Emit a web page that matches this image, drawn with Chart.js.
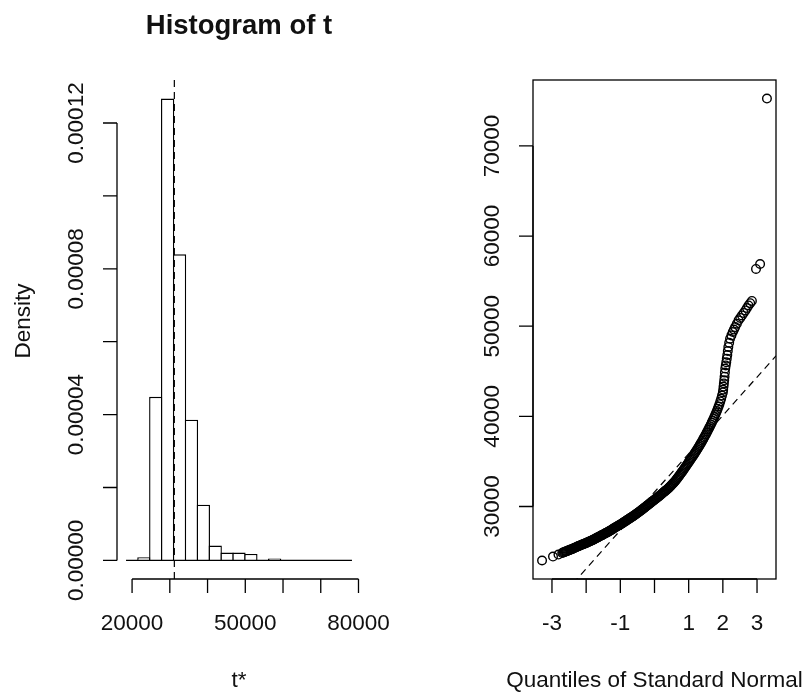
<!DOCTYPE html>
<html>
<head>
<meta charset="utf-8">
<script src="https://cdn.jsdelivr.net/npm/chart.js@4/dist/chart.umd.min.js"></script>
<style>
  html, body { margin: 0; padding: 0; background: #fff; }
  #wrap { position: relative; width: 805px; height: 693px; }
  canvas { position: absolute; top: 0; }
  #histCanvas { left: 0; }
  #qqCanvas { left: 402px; }
</style>
</head>
<body>
<div id="wrap">
  <canvas id="histCanvas" width="402" height="693"></canvas>
  <canvas id="qqCanvas" width="403" height="693"></canvas>
</div>
<script>
// histogram of bootstrap replicates t*
const breaks = [18400, 21551, 24702, 27853, 31004, 34155, 37306, 40457, 43608, 46759,
                49910, 53061, 56212, 59363, 62514, 65665, 68816, 71967, 75118, 78269];
const density = [0, 8.8e-7, 4.49e-5, 1.267e-4, 8.40e-5, 3.86e-5, 1.53e-5, 4.06e-6, 2.14e-6, 2.14e-6,
                 1.78e-6, 0, 4.9e-7, 0, 0, 0, 0, 0, 0];
const t0 = 31200;

const histXTicks = [20000, 30000, 40000, 50000, 60000, 70000, 80000];
const histXLabels = ['20000', '', '', '50000', '', '', '80000'];
const histYTicks = [0, 0.00002, 0.00004, 0.00006, 0.00008, 0.0001, 0.00012];
const histYLabels = ['0.00000', '', '0.00004', '', '0.00008', '', '0.00012'];

// normal quantile plot: theoretical quantile vs sorted t*
const qqTheo = [
  -3.29, -2.97, -2.81,
  -2.700, -2.675, -2.650, -2.625, -2.600, -2.575, -2.550, -2.525, -2.500, -2.475,
  -2.450, -2.425, -2.400, -2.375, -2.350, -2.325, -2.300, -2.275, -2.250, -2.225,
  -2.200, -2.175, -2.150, -2.125, -2.100, -2.075, -2.050, -2.025, -2.000, -1.975,
  -1.950, -1.925, -1.900, -1.875, -1.850, -1.825, -1.800, -1.775, -1.750, -1.725,
  -1.700, -1.675, -1.650, -1.625, -1.600, -1.575, -1.550, -1.525, -1.500, -1.475,
  -1.450, -1.425, -1.400, -1.375, -1.350, -1.325, -1.300, -1.275, -1.250, -1.225,
  -1.200, -1.175, -1.150, -1.125, -1.100, -1.075, -1.050, -1.025, -1.000, -0.975,
  -0.950, -0.925, -0.900, -0.875, -0.850, -0.825, -0.800, -0.775, -0.750, -0.725,
  -0.700, -0.675, -0.650, -0.625, -0.600, -0.575, -0.550, -0.525, -0.500, -0.475,
  -0.450, -0.425, -0.400, -0.375, -0.350, -0.325, -0.300, -0.275, -0.250, -0.225,
  -0.200, -0.175, -0.150, -0.125, -0.100, -0.075, -0.050, -0.025, 0.000, 0.025,
  0.050, 0.075, 0.100, 0.125, 0.150, 0.175, 0.200, 0.225, 0.250, 0.275,
  0.300, 0.325, 0.350, 0.375, 0.400, 0.425, 0.450, 0.475, 0.500, 0.525,
  0.550, 0.575, 0.600, 0.625, 0.650, 0.675, 0.700, 0.725, 0.750, 0.775,
  0.800, 0.825, 0.850, 0.875, 0.900, 0.925, 0.950, 0.975, 1.000, 1.025,
  1.050, 1.075, 1.100, 1.125, 1.150, 1.175, 1.200, 1.225, 1.250, 1.275,
  1.300, 1.325, 1.350, 1.375, 1.400, 1.425, 1.450, 1.475, 1.500, 1.525,
  1.550, 1.575, 1.600, 1.625, 1.650, 1.675, 1.700, 1.725, 1.750, 1.775,
  1.800, 1.825, 1.850, 1.875, 1.900, 1.925, 1.950, 1.975,
  2.000, 2.010, 2.020, 2.030, 2.040, 2.050, 2.060, 2.070, 2.085, 2.100,
  2.115, 2.130, 2.145, 2.160, 2.185, 2.210, 2.250, 2.290, 2.325, 2.360,
  2.410, 2.460, 2.510, 2.560, 2.610, 2.660, 2.705, 2.750, 2.800, 2.850,
  2.97, 3.09, 3.29];
const qqSample = [
  24010, 24450, 24670,
  24850, 24890, 24930, 24965, 25000, 25040, 25080, 25115, 25150, 25190,
  25230, 25265, 25300, 25345, 25390, 25430, 25470, 25515, 25560, 25605,
  25650, 25685, 25720, 25760, 25800, 25835, 25870, 25910, 25950, 25995,
  26040, 26080, 26120, 26165, 26210, 26255, 26300, 26350, 26400, 26450,
  26500, 26550, 26600, 26650, 26700, 26750, 26800, 26850, 26900, 26950,
  27000, 27050, 27100, 27155, 27210, 27265, 27320, 27375, 27430, 27490,
  27550, 27605, 27660, 27720, 27780, 27835, 27890, 27945, 28000, 28060,
  28120, 28185, 28250, 28310, 28370, 28435, 28500, 28560, 28620, 28685,
  28750, 28810, 28870, 28935, 29000, 29065, 29130, 29200, 29270, 29340,
  29410, 29480, 29550, 29625, 29700, 29775, 29850, 29925, 30000, 30075,
  30150, 30225, 30300, 30375, 30450, 30525, 30600, 30675, 30750, 30825,
  30900, 30975, 31050, 31125, 31200, 31280, 31360, 31440, 31520, 31600,
  31680, 31760, 31840, 31920, 32000, 32095, 32190, 32290, 32390, 32490,
  32590, 32695, 32800, 32920, 33040, 33165, 33290, 33420, 33550, 33680,
  33810, 33945, 34080, 34215, 34350, 34490, 34630, 34775, 34920, 35055,
  35190, 35330, 35470, 35610, 35750, 35895, 36040, 36190, 36340, 36495,
  36650, 36810, 36970, 37135, 37300, 37470, 37640, 37815, 37990, 38170,
  38350, 38535, 38720, 38910, 39100, 39300, 39500, 39710, 39920, 40140,
  40360, 40595, 40830, 41090, 41350, 41650, 41950, 42300,
  42650, 42950, 43300, 43650, 44000, 44400, 44850, 45300, 45650, 46000,
  46400, 46800, 47250, 47700, 48150, 48600, 48980, 49350, 49620, 49900,
  50270, 50650, 50920, 51200, 51470, 51750, 52020, 52300, 52550, 52800,
  56350, 56900, 75250];
const tMean = 31600;
const tSd = 4250;

const qqXTicks = [-3, -2, -1, 0, 1, 2, 3];
const qqXLabels = ['-3', '', '-1', '', '1', '2', '3'];
const qqYTicks = [30000, 40000, 50000, 60000, 70000];
const qqYLabels = ['30000', '40000', '50000', '60000', '70000'];

const FONT = '"Liberation Sans", Arial, Helvetica, sans-serif';
const INK = '#111';

// R-style axes: line spans first..last tick, ticks point outwards,
// y labels run parallel to the axis
const rAxes = {
  id: 'rAxes',
  afterDraw(chart, args, o) {
    const { ctx, chartArea: a, scales: { x, y } } = chart;
    ctx.save();
    ctx.strokeStyle = '#000';
    ctx.lineWidth = 1.3;
    ctx.fillStyle = INK;

    if (o.box) ctx.strokeRect(a.left, a.top, a.right - a.left, a.bottom - a.top);

    const xs = o.xTicks.map(v => x.getPixelForValue(v));
    ctx.beginPath();
    ctx.moveTo(xs[0], a.bottom);
    ctx.lineTo(xs[xs.length - 1], a.bottom);
    xs.forEach(px => { ctx.moveTo(px, a.bottom); ctx.lineTo(px, a.bottom + 14); });
    const ys = o.yTicks.map(v => y.getPixelForValue(v));
    ctx.moveTo(a.left, ys[0]);
    ctx.lineTo(a.left, ys[ys.length - 1]);
    ys.forEach(py => { ctx.moveTo(a.left, py); ctx.lineTo(a.left - 14, py); });
    ctx.stroke();

    ctx.font = '22.5px ' + FONT;
    ctx.textAlign = 'center';
    ctx.textBaseline = 'alphabetic';
    xs.forEach((px, i) => ctx.fillText(o.xLabels[i], px, a.bottom + 51));
    ys.forEach((py, i) => {
      ctx.save();
      ctx.translate(a.left - 34, py);
      ctx.rotate(-Math.PI / 2);
      ctx.fillText(o.yLabels[i], 0, 0);
      ctx.restore();
    });

    const midX = (a.left + a.right) / 2;
    ctx.fillText(o.xTitle, midX, 687);
    ctx.save();
    ctx.translate(o.yTitleX, 321);
    ctx.rotate(-Math.PI / 2);
    ctx.fillText(o.yTitle, 0, 0);
    ctx.restore();

    if (o.title) {
      ctx.font = 'bold 27.5px ' + FONT;
      ctx.fillText(o.title, midX, 34);
    }
    ctx.restore();
  }
};

const baseOptions = {
  responsive: false,
  animation: false,
  devicePixelRatio: 1,
  events: [],
  plugins: { legend: { display: false }, tooltip: { enabled: false } }
};

new Chart(document.getElementById('histCanvas'), {
  data: {
    datasets: [
      {
        type: 'line',
        data: [{ x: t0, y: -0.0000051 }, { x: t0, y: 0.0001318 }],
        borderColor: '#000',
        borderWidth: 1.2,
        borderDash: [7, 5],
        pointRadius: 0,
        order: 0
      },
      {
        type: 'line',
        data: [{ x: breaks[0], y: 0 }, { x: breaks[breaks.length - 1], y: 0 }],
        borderColor: '#000',
        borderWidth: 1.4,
        pointRadius: 0,
        order: 1
      },
      {
        type: 'bar',
        data: density.map((d, i) => ({ x: (breaks[i] + breaks[i + 1]) / 2, y: d })),
        backgroundColor: '#fff',
        borderColor: '#000',
        borderWidth: 1.4,
        borderSkipped: 'start',
        inflateAmount: 0,
        categoryPercentage: 1,
        barPercentage: 1.118,
        order: 2
      }
    ]
  },
  options: {
    ...baseOptions,
    layout: { padding: { left: 117, right: 41, top: 80, bottom: 114 } },
    scales: {
      x: { type: 'linear', display: false, offset: false, min: 16005, max: 80664,
           afterBuildTicks: s => { s.ticks = histXTicks.map(v => ({ value: v })); } },
      y: { type: 'linear', display: false, min: -0.0000051, max: 0.0001318 }
    },
    plugins: {
      ...baseOptions.plugins,
      rAxes: {
        xTicks: histXTicks, xLabels: histXLabels,
        yTicks: histYTicks, yLabels: histYLabels,
        xTitle: 't*', yTitle: 'Density', yTitleX: 30,
        title: 'Histogram of t', box: false
      }
    }
  },
  plugins: [rAxes]
});

new Chart(document.getElementById('qqCanvas'), {
  data: {
    datasets: [
      {
        type: 'line',
        data: [-3.555, 3.555].map(q => ({ x: q, y: tMean + tSd * q })),
        borderColor: '#000',
        borderWidth: 1.2,
        borderDash: [7, 5],
        pointRadius: 0,
        order: 0
      },
      {
        type: 'scatter',
        data: qqTheo.map((q, i) => ({ x: q, y: qqSample[i] })),
        pointStyle: 'circle',
        pointRadius: 4.3,
        pointBorderWidth: 1.4,
        pointBorderColor: '#000',
        pointBackgroundColor: 'rgba(0,0,0,0)',
        order: 1
      }
    ]
  },
  options: {
    ...baseOptions,
    layout: { padding: { left: 131, right: 29, top: 80, bottom: 114 } },
    scales: {
      x: { type: 'linear', display: false, min: -3.555, max: 3.555 },
      y: { type: 'linear', display: false, min: 21957, max: 77310 }
    },
    plugins: {
      ...baseOptions.plugins,
      rAxes: {
        xTicks: qqXTicks, xLabels: qqXLabels,
        yTicks: qqYTicks, yLabels: qqYLabels,
        xTitle: 'Quantiles of Standard Normal', yTitle: 't*', yTitleX: 445,
        box: true
      }
    }
  },
  plugins: [rAxes]
});
</script>
</body>
</html>
